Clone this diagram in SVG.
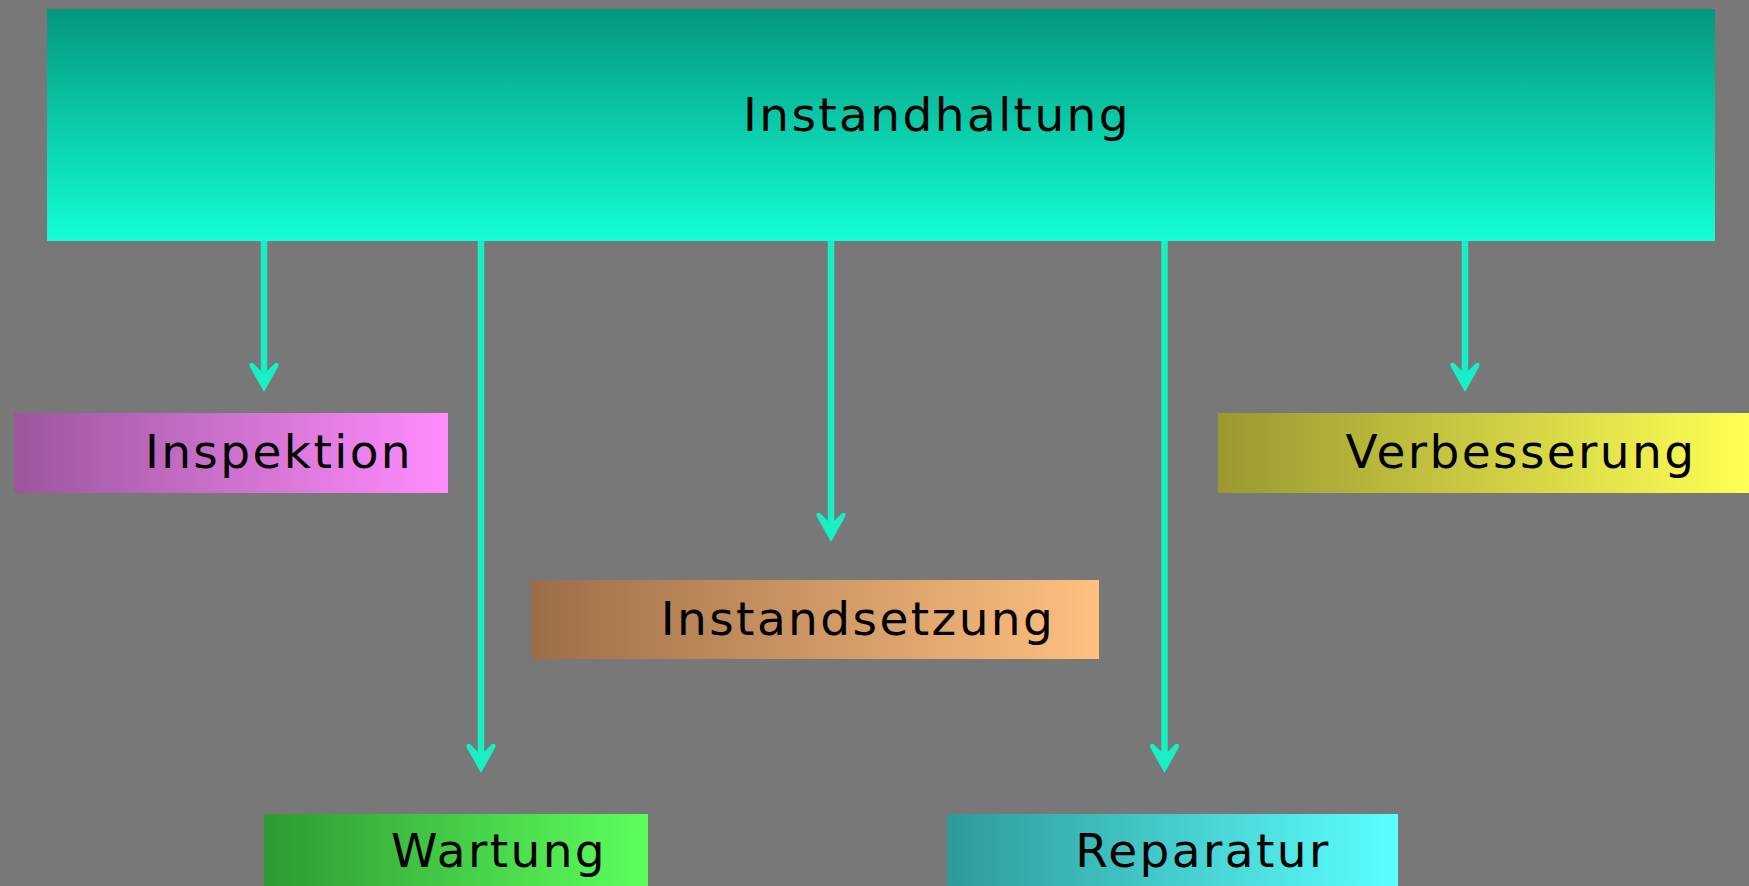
<svg xmlns="http://www.w3.org/2000/svg" width="1749" height="886" viewBox="0 0 1749 886">
<style>
.lbl{font-family:"DejaVu Sans",Verdana,sans-serif;font-size:47px;letter-spacing:2.4px;fill:#000;text-anchor:middle}
.conn{stroke:#17efc4;stroke-width:6.5;fill:none}
.head{fill:#17efc4}
</style>
<defs>
<linearGradient id="gTop" x1="0" y1="0" x2="0" y2="1"><stop offset="0" stop-color="#04977d"/><stop offset="1" stop-color="#12ffd6"/></linearGradient>
<linearGradient id="gInsp" x1="0" y1="0" x2="1" y2="0"><stop offset="0" stop-color="#9c569c"/><stop offset="1" stop-color="#ff8cff"/></linearGradient>
<linearGradient id="gVerb" x1="0" y1="0" x2="1" y2="0"><stop offset="0" stop-color="#999930"/><stop offset="1" stop-color="#ffff55"/></linearGradient>
<linearGradient id="gSetz" x1="0" y1="0" x2="1" y2="0"><stop offset="0" stop-color="#9c6e48"/><stop offset="1" stop-color="#ffc080"/></linearGradient>
<linearGradient id="gWart" x1="0" y1="0" x2="1" y2="0"><stop offset="0" stop-color="#2e9a32"/><stop offset="1" stop-color="#5cff5c"/></linearGradient>
<linearGradient id="gRep" x1="0" y1="0" x2="1" y2="0"><stop offset="0" stop-color="#2e9a9a"/><stop offset="1" stop-color="#5cffff"/></linearGradient>
<path id="ah" d="M0,0 L-14,-25 Q-16,-30 -11,-29 L0,-18 L11,-29 Q16,-30 14,-25 Z"/>
</defs>
<rect x="0" y="0" width="1749" height="886" fill="#787878"/>
<g id="connectors">
<line class="conn" x1="264" y1="241" x2="264" y2="374"/>
<use href="#ah" class="head" x="264" y="392"/>
<line class="conn" x1="481" y1="241" x2="481" y2="755"/>
<use href="#ah" class="head" x="481" y="773"/>
<line class="conn" x1="831" y1="241" x2="831" y2="524"/>
<use href="#ah" class="head" x="831" y="542"/>
<line class="conn" x1="1164.5" y1="241" x2="1164.5" y2="755"/>
<use href="#ah" class="head" x="1164.5" y="773"/>
<line class="conn" x1="1465" y1="241" x2="1465" y2="374"/>
<use href="#ah" class="head" x="1465" y="392"/>
</g>
<g id="instandhaltung">
<rect x="47" y="9" width="1668" height="232" fill="url(#gTop)"/>
<text class="lbl" x="937" y="131">Instandhaltung</text>
</g>
<g id="inspektion">
<rect x="14" y="413" width="434" height="80" fill="url(#gInsp)"/>
<text class="lbl" x="279" y="468">Inspektion</text>
</g>
<g id="verbesserung">
<rect x="1218" y="413" width="531" height="80" fill="url(#gVerb)"/>
<text class="lbl" x="1521" y="468">Verbesserung</text>
</g>
<g id="instandsetzung">
<rect x="531" y="580" width="568" height="79" fill="url(#gSetz)"/>
<text class="lbl" x="858" y="635">Instandsetzung</text>
</g>
<g id="wartung">
<rect x="264" y="814" width="384" height="80" fill="url(#gWart)"/>
<text class="lbl" x="499" y="867">Wartung</text>
</g>
<g id="reparatur">
<rect x="947" y="814" width="451" height="80" fill="url(#gRep)"/>
<text class="lbl" x="1203" y="867">Reparatur</text>
</g>
</svg>
